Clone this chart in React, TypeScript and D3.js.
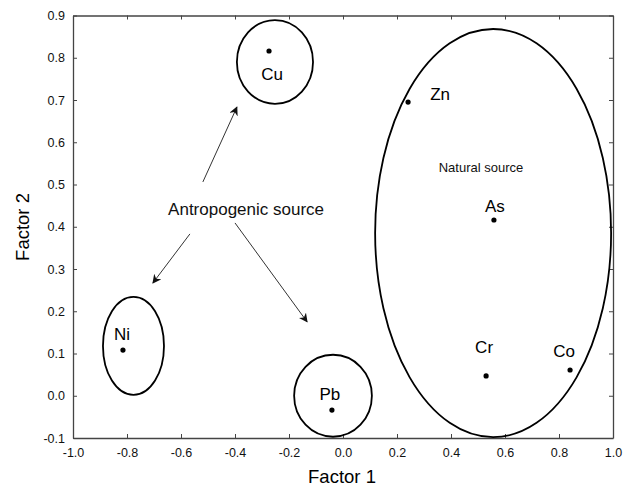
import { useEffect, useRef } from 'react'
import * as d3 from 'd3'

// element loadings (Factor 1, Factor 2)
const elements = ['Cu', 'Zn', 'As', 'Cr', 'Co', 'Ni', 'Pb']
const factor1 = [-0.274, 0.241, 0.559, 0.53, 0.841, -0.815, -0.041]
const factor2 = [0.816, 0.695, 0.416, 0.047, 0.061, 0.108, -0.034]

// grouping ellipses: centre and radii in data units
const ellipseCx = [-0.252, 0.556, -0.776, -0.037]
const ellipseCy = [0.79, 0.385, 0.118, 0.0]
const ellipseRx = [0.141, 0.437, 0.113, 0.144]
const ellipseRy = [0.099, 0.483, 0.116, 0.097]

// arrows from the annotation text
const arrowFrom: [number, number][] = [[-0.519, 0.506], [-0.567, 0.383], [-0.4, 0.409]]
const arrowTo: [number, number][] = [[-0.393, 0.683], [-0.704, 0.267], [-0.133, 0.175]]

const xTicks = d3.range(-10, 11, 2).map(d => d / 10)
const yTicks = d3.range(-1, 10, 1).map(d => d / 10)

// label offsets in px
const labelOffset: Record<string, [number, number]> = {
  Cu: [3, 29],
  Zn: [32, -2],
  As: [1, -8],
  Cr: [-2, -23],
  Co: [-6, -13],
  Ni: [-1, -10],
  Pb: [-2, -10],
}

const W = 629
const H = 488
const margin = { top: 15.5, right: 16, bottom: 50, left: 73 }

const App = () => {
  const svgRef = useRef<SVGSVGElement | null>(null)

  useEffect(() => {
    if (!svgRef.current) return
    const svg = d3.select(svgRef.current)
    svg.selectAll('*').remove()

    const width = W - margin.left - margin.right
    const height = H - margin.top - margin.bottom
    const font = 'Arial, "Liberation Sans", sans-serif'

    const x = d3.scaleLinear().domain([-1, 1]).range([0, width])
    const y = d3.scaleLinear().domain([-0.1, 0.9]).range([height, 0])

    svg.append('defs')
      .append('marker')
      .attr('id', 'arr')
      .attr('viewBox', '0 0 10 10')
      .attr('refX', 9)
      .attr('refY', 5)
      .attr('markerWidth', 9)
      .attr('markerHeight', 9)
      .attr('markerUnits', 'userSpaceOnUse')
      .attr('orient', 'auto')
      .append('path')
      .attr('d', 'M0,0 L10,5 L0,10 L3,5 Z')
      .attr('fill', '#111')

    const g = svg.append('g').attr('transform', `translate(${margin.left},${margin.top})`)

    const fmt = (d: d3.NumberValue) => (+d).toFixed(1)

    const styleAxis = (sel: d3.Selection<SVGGElement, unknown, null, undefined>) => {
      sel.select('.domain').attr('stroke', '#444').attr('stroke-width', 1.3)
      sel.selectAll('.tick line').attr('stroke', '#444')
      sel.selectAll('.tick text')
        .attr('fill', '#111')
        .style('font-family', font)
        .style('font-size', '12.5px')
    }

    g.append('g')
      .attr('transform', `translate(0,${height})`)
      .call(d3.axisBottom(x).tickValues(xTicks).tickFormat(fmt).tickSize(-4).tickPadding(10).tickSizeOuter(0))
      .call(styleAxis)

    g.append('g')
      .call(d3.axisLeft(y).tickValues(yTicks).tickFormat(fmt).tickSize(-4).tickPadding(8).tickSizeOuter(0))
      .call(styleAxis)

    g.append('g')
      .call(d3.axisTop(x).tickValues(xTicks).tickFormat(() => '').tickSize(-4).tickSizeOuter(0))
      .call(styleAxis)

    g.append('g')
      .attr('transform', `translate(${width},0)`)
      .call(d3.axisRight(y).tickValues(yTicks).tickFormat(() => '').tickSize(-4).tickSizeOuter(0))
      .call(styleAxis)

    // ellipses
    g.selectAll('ellipse.grp')
      .data(ellipseCx.map((_, i) => i))
      .enter()
      .append('ellipse')
      .attr('cx', i => x(ellipseCx[i]))
      .attr('cy', i => y(ellipseCy[i]))
      .attr('rx', i => x(ellipseRx[i]) - x(0))
      .attr('ry', i => y(0) - y(ellipseRy[i]))
      .attr('fill', 'none')
      .attr('stroke', '#000')
      .attr('stroke-width', 1.8)

    // arrows
    g.selectAll('line.arrow')
      .data(arrowFrom.map((_, i) => i))
      .enter()
      .append('line')
      .attr('x1', i => x(arrowFrom[i][0]))
      .attr('y1', i => y(arrowFrom[i][1]))
      .attr('x2', i => x(arrowTo[i][0]))
      .attr('y2', i => y(arrowTo[i][1]))
      .attr('stroke', '#333')
      .attr('stroke-width', 1)
      .attr('marker-end', 'url(#arr)')

    // points
    const pts = elements.map((name, i) => ({ name, f1: factor1[i], f2: factor2[i] }))
    g.selectAll('circle.pt')
      .data(pts)
      .enter()
      .append('circle')
      .attr('cx', d => x(d.f1))
      .attr('cy', d => y(d.f2))
      .attr('r', 2.6)
      .attr('fill', '#000')

    g.selectAll('text.lbl')
      .data(pts)
      .enter()
      .append('text')
      .attr('x', d => x(d.f1) + labelOffset[d.name][0])
      .attr('y', d => y(d.f2) + labelOffset[d.name][1])
      .attr('text-anchor', 'middle')
      .style('font-family', font)
      .style('font-size', '17px')
      .attr('fill', '#000')
      .text(d => d.name)

    g.append('text')
      .attr('x', x(-0.359))
      .attr('y', y(0.428))
      .attr('text-anchor', 'middle')
      .style('font-family', font)
      .style('font-size', '17px')
      .attr('fill', '#111')
      .text('Antropogenic source')

    g.append('text')
      .attr('x', x(0.511))
      .attr('y', y(0.529))
      .attr('text-anchor', 'middle')
      .style('font-family', font)
      .style('font-size', '13px')
      .attr('fill', '#111')
      .text('Natural source')

    // axis titles
    svg.append('text')
      .attr('x', margin.left + x(0) - 1)
      .attr('y', 483)
      .attr('text-anchor', 'middle')
      .style('font-family', font)
      .style('font-size', '18.5px')
      .attr('fill', '#000')
      .text('Factor 1')

    svg.append('text')
      .attr('transform', `translate(29,227) rotate(-90)`)
      .attr('text-anchor', 'middle')
      .style('font-family', font)
      .style('font-size', '18.5px')
      .attr('fill', '#000')
      .text('Factor 2')
  }, [])

  return (
    <svg
      ref={svgRef}
      width={W}
      height={H}
      style={{ position: 'absolute', left: 0, top: 0, background: '#fff' }}
    />
  )
}

export default App
